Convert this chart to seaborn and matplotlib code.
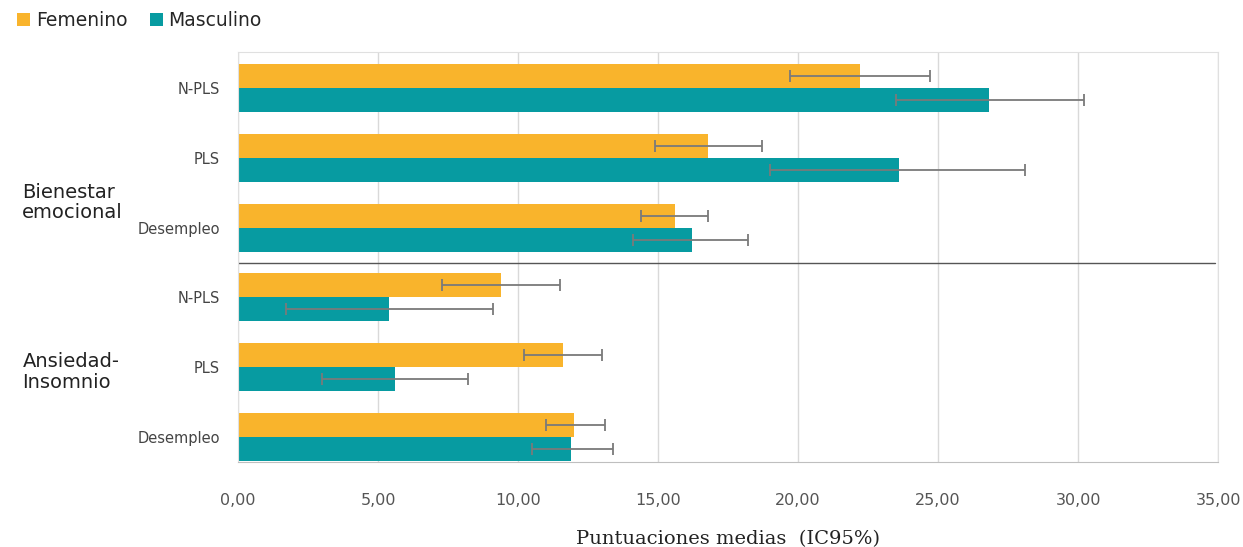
import numpy as np
import pandas as pd
import matplotlib.pyplot as plt
import seaborn as sns

# values (mean, lower/upper IC95%)
rows = ['Bienestar N-PLS', 'Bienestar PLS', 'Bienestar Desempleo',
        'Ansiedad N-PLS', 'Ansiedad PLS', 'Ansiedad Desempleo']
row_labels = ['N-PLS', 'PLS', 'Desempleo', 'N-PLS', 'PLS', 'Desempleo']
group_labels = ['Bienestar\nemocional', 'Ansiedad-\nInsomnio']
sexes = ['Femenino', 'Masculino']

fem_mean = [22.2, 16.8, 15.6, 9.4, 11.6, 12.0]
fem_low = [19.7, 14.9, 14.4, 7.3, 10.2, 11.0]
fem_high = [24.7, 18.7, 16.8, 11.5, 13.0, 13.1]

masc_mean = [26.8, 23.6, 16.2, 5.4, 5.6, 11.9]
masc_low = [23.5, 19.0, 14.1, 1.7, 3.0, 10.5]
masc_high = [30.2, 28.1, 18.2, 9.1, 8.2, 13.4]

xticks = [0, 5, 10, 15, 20, 25, 30, 35]

df = pd.DataFrame({
    'fila': rows * 2,
    'sexo': [sexes[0]] * 6 + [sexes[1]] * 6,
    'media': fem_mean + masc_mean,
    'low': fem_low + masc_low,
    'high': fem_high + masc_high,
})

sns.set_style('white')
plt.rcParams['font.family'] = ['DejaVu Sans']

fig = plt.figure(figsize=(12.43, 5.47), dpi=100)
ax = fig.add_axes([0.1915, 0.1554, 0.7885, 0.7496])

palette = {'Femenino': '#F9B42C', 'Masculino': '#079BA1'}
sns.barplot(data=df, y='fila', x='media', hue='sexo', order=rows,
            hue_order=sexes, palette=palette, orient='h', width=0.69,
            errorbar=None, saturation=1, linewidth=0, ax=ax, legend=True)

# error bars placed at the bar centres seaborn computed
for cont, sex in zip(ax.containers, sexes):
    sub = df[df['sexo'] == sex].set_index('fila').loc[rows]
    ys = [p.get_y() + p.get_height() / 2 for p in cont.patches]
    xs = sub['media'].values
    err = np.vstack([xs - sub['low'].values, sub['high'].values - xs])
    ax.errorbar(xs, ys, xerr=err, fmt='none', ecolor='#7a7a7a',
                elinewidth=1.3, capsize=4, capthick=1.3, zorder=5)

ax.set_xlim(0, 35)
ax.set_ylim(5.36, -0.52)
ax.set_xticks(xticks)
ax.set_xticklabels([f'{v:.2f}'.replace('.', ',') for v in xticks],
                   fontsize=11.5, color='#555555')
ax.set_yticks(range(len(rows)))
ax.set_yticklabels(row_labels, fontsize=10.5, color='#444444')
ax.tick_params(axis='y', length=0, pad=13)
ax.tick_params(axis='x', length=0, pad=22)
ax.xaxis.grid(True, color='#d9d9d9', lw=1)
ax.set_axisbelow(True)
for s in ['top', 'right', 'left']:
    ax.spines[s].set_color('#e0e0e0')
ax.spines['bottom'].set_color('#bfbfbf')

ax.axhline(2.5, color='#555555', lw=1, xmax=0.997)

ax.set_ylabel('')
ax.set_xlabel('Puntuaciones medias  (IC95%)', fontsize=14,
              family='DejaVu Serif', color='#222222', labelpad=16)

fig.text(0.018, 0.63, group_labels[0], fontsize=14, color='#222222',
         va='center', ha='left', linespacing=1.1)
fig.text(0.018, 0.32, group_labels[1], fontsize=14, color='#222222',
         va='center', ha='left', linespacing=1.1)

handles, labels = ax.get_legend_handles_labels()
ax.get_legend().remove()
fig.legend(handles, labels, loc='upper left', bbox_to_anchor=(0.0, 1.01),
           ncol=2, frameon=False, fontsize=13.5, handlelength=0.7,
           handleheight=0.7, handletextpad=0.3, columnspacing=1.2)

fig.savefig('out.png', dpi=100)
